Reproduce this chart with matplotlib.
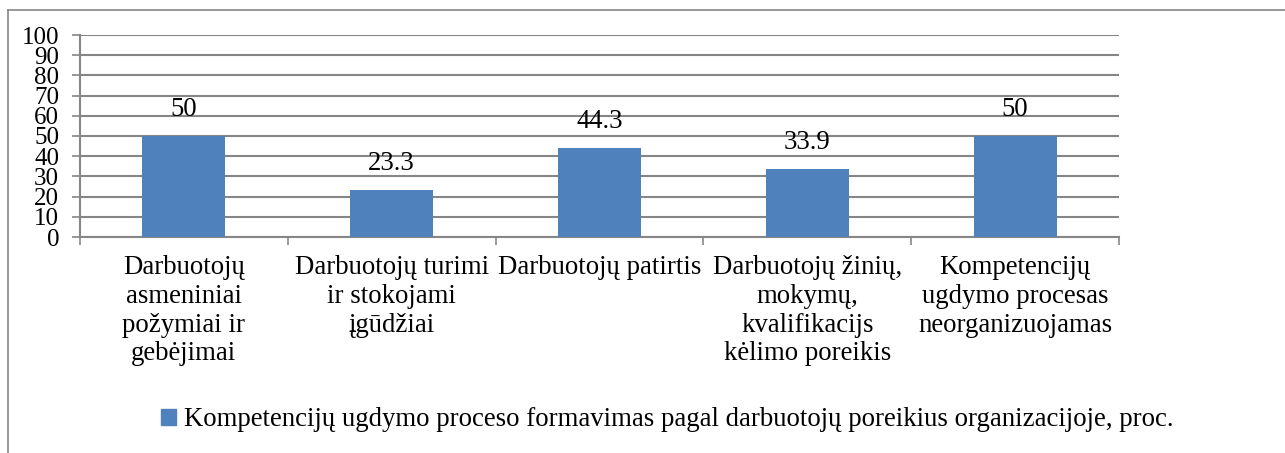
import matplotlib
matplotlib.use("Agg")
import matplotlib.pyplot as plt
from matplotlib.lines import Line2D
from matplotlib.patches import Patch

categories = [
    "Darbuotojų\nasmeniniai\npožymiai ir\ngebėjimai",
    "Darbuotojų turimi\nir stokojami\nįgūdžiai",
    "Darbuotojų patirtis",
    "Darbuotojų žinių,\nmokymų,\nkvalifikacijs\nkėlimo poreikis",
    "Kompetencijų\nugdymo procesas\nneorganizuojamas",
]
values = [50, 23.3, 44.3, 33.9, 50]
value_labels = ["50", "23.3", "44.3", "33.9", "50"]
yticks = [0, 10, 20, 30, 40, 50, 60, 70, 80, 90, 100]
series_name = "Kompetencijų ugdymo proceso formavimas pagal darbuotojų poreikius organizacijoje, proc."

plt.rcParams['font.family'] = ['Liberation Serif', 'DejaVu Serif']
FS = 19.3
BLUE = "#4F81BD"
GRAY = "#868686"

fig = plt.figure(figsize=(12.85, 4.53), dpi=100)
ax = fig.add_axes([80/1285, 1-237/453, (1119-80)/1285, (237-35)/453])

x = list(range(len(values)))
ax.bar(x, values, width=0.4, color=BLUE, zorder=3)
for xi, v, lab in zip(x, values, value_labels):
    ax.annotate(lab, (xi, v), xytext=(0, 10), textcoords="offset points",
                ha="center", va="bottom", fontsize=FS, family=['Liberation Serif'])

ax.set_xlim(-0.5, len(values) - 0.5)
ax.set_ylim(0, 100)
ax.set_yticks(yticks)
ax.set_yticklabels([str(t) for t in yticks], fontsize=18, family=['Liberation Serif'])
ax.tick_params(axis="y", length=6, width=1.2, color=GRAY, pad=9)

ax.set_xticks([i - 0.5 for i in range(len(values) + 1)], minor=False)
ax.set_xticklabels([])
ax.tick_params(axis="x", length=6, width=1.2, color=GRAY)
ax.set_xticks(x, minor=True)
ax.set_xticklabels(categories, minor=True, fontsize=FS, linespacing=1.2,
                   family=['Liberation Serif'])
ax.tick_params(axis="x", which="minor", length=0, pad=13)

ax.grid(axis="y", color=GRAY, linewidth=1.5, zorder=0)
ax.set_axisbelow(True)
for s in ["top", "right"]:
    ax.spines[s].set_visible(False)
for s in ["left", "bottom"]:
    ax.spines[s].set_color(GRAY)
    ax.spines[s].set_linewidth(1.5)

# outer chart frame
fig.add_artist(Line2D([8/1285, 1], [1-10/453, 1-10/453], transform=fig.transFigure,
                      color=GRAY, linewidth=1.2))
fig.add_artist(Line2D([8/1285, 8/1285], [0, 1-10/453], transform=fig.transFigure,
                      color=GRAY, linewidth=1.2))

handle = Patch(facecolor=BLUE, edgecolor=BLUE)
fig.legend([handle], [series_name], loc="center", bbox_to_anchor=(0.519, 1-420/453),
           frameon=False, prop={'family': 'Liberation Serif', 'size': FS},
           handlelength=0.55, handleheight=0.55, handletextpad=0.3)

fig.savefig("out.png", dpi=100)
